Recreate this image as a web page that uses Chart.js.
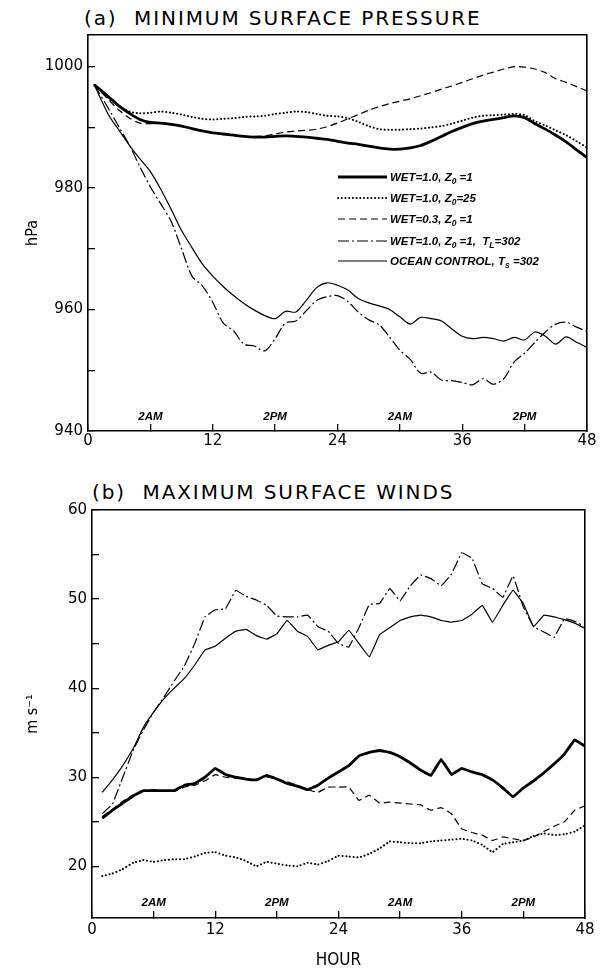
<!DOCTYPE html>
<html><head><meta charset="utf-8">
<script src="https://cdn.jsdelivr.net/npm/chart.js@4.4.1/dist/chart.umd.min.js"></script>
<style>
html,body{margin:0;padding:0;background:#fff;}
body{width:605px;height:971px;position:relative;overflow:hidden;}
.ptitle{position:absolute;font-family:'DejaVu Sans',sans-serif;font-size:20px;line-height:20px;letter-spacing:1.9px;color:#000;white-space:nowrap;}
#wrapA{position:absolute;left:0;top:0;width:605px;height:460px;}
#wrapB{position:absolute;left:0;top:470px;width:605px;height:501px;}
#legend{position:absolute;left:337px;top:0;font-family:'Liberation Sans',Arial,sans-serif;font-weight:bold;font-style:italic;font-size:11.5px;color:#000;}
.row{position:absolute;left:0;height:14px;white-space:nowrap;}
.row svg{position:absolute;left:0;top:3px;}
.row span{position:absolute;left:53px;top:0;line-height:14px;}
sub{font-size:8.5px;vertical-align:-3px;line-height:0;}
</style></head><body>
<div class="ptitle" id="titleA" style="left:84px;top:8px;">(a)&nbsp; MINIMUM SURFACE PRESSURE</div>
<div class="ptitle" id="titleB" style="left:92px;top:482px;">(b)&nbsp; MAXIMUM SURFACE WINDS</div>
<div id="wrapA"><canvas id="cA" width="605" height="460" style="width:605px;height:460px"></canvas></div>
<div id="wrapB"><canvas id="cB" width="605" height="501" style="width:605px;height:501px"></canvas></div>
<div id="legend"></div>
<script>
// ---------- categories (hours) ----------
const hoursA = [0.6, 2, 3, 4, 5, 6, 7, 8, 9, 10, 11, 12, 13, 14, 15, 16, 17, 18, 19, 20, 21, 22, 23, 24,
  25, 26, 27, 28, 29, 30, 31, 32, 33, 34, 35, 36, 37, 38, 39, 40, 41, 42, 43, 44, 45, 46, 47, 48];
const hoursB = [1, 2, 3, 4, 5, 6, 7, 8, 9, 10, 11, 12, 13, 14, 15, 16, 17, 18, 19, 20, 21, 22, 23, 24,
  25, 26, 27, 28, 29, 30, 31, 32, 33, 34, 35, 36, 37, 38, 39, 40, 41, 42, 43, 44, 45, 46, 47, 48];

// ---------- (a) minimum surface pressure, hPa ----------
const presWet10Z1 = [997, 995, 993.5, 992.3, 991.3, 990.8, 990.7, 990.5, 990.2, 989.8, 989.4, 989.1, 988.9, 988.7, 988.5, 988.4,
  988.4, 988.5, 988.6, 988.5, 988.4, 988.2, 988.0, 987.7, 987.4, 987.2, 986.9, 986.6, 986.4, 986.4, 986.6, 987.0,
  987.7, 988.5, 989.3, 990.0, 990.6, 991.0, 991.3, 991.6, 991.9, 991.6, 990.6, 989.7, 988.7, 987.6, 986.3, 985.0];
const presWet10Z25 = [997, 994.8, 993.5, 992.6, 992.3, 992.4, 992.6, 992.4, 992.1, 991.7, 991.4, 991.3, 991.4, 991.5, 991.7, 991.8,
  991.9, 992.2, 992.4, 992.6, 992.5, 992.2, 991.9, 991.8, 991.5, 990.9, 990.2, 989.7, 989.6, 989.6, 989.7, 989.8,
  990.0, 990.2, 990.6, 991.1, 991.6, 991.9, 992.0, 992.1, 992.2, 992.0, 991.0, 990.3, 989.5, 988.7, 987.7, 986.7];
const presWet03Z1 = [997, 994.5, 992.8, 991.5, 990.7, 990.6, 990.7, 990.5, 990.2, 989.8, 989.4, 989.1, 988.9, 988.7, 988.5, 988.5,
  988.6, 988.9, 989.2, 989.4, 989.5, 989.7, 990.1, 990.7, 991.4, 992.1, 992.8, 993.4, 993.9, 994.3, 994.7, 995.2,
  995.7, 996.3, 996.8, 997.4, 998.0, 998.6, 999.1, 999.6, 1000.0, 999.9, 999.6, 999.0, 998.0, 997.4, 996.7, 996.0];
const presWet10TL302 = [997, 993, 990, 987, 983.5, 980.2, 977.4, 974.5, 970.0, 965.5, 963.9, 961.2, 957.8, 956.5, 954.3, 954.0,
  953.2, 955.2, 957.8, 958.1, 959.8, 961.5, 962.1, 962.3, 961.3, 959.6, 958.3, 957.5, 955.5, 953.3, 951.8, 949.5,
  949.7, 948.4, 948.3, 948.0, 947.6, 948.6, 947.7, 948.6, 951.4, 952.8, 954.6, 956.3, 957.6, 957.9, 957.1, 956.4];
const presOceanTs302 = [997, 992, 989.5, 987, 984.8, 982.7, 979.8, 976.5, 973, 970.2, 967.5, 965.5, 963.8, 962.3, 961, 959.9,
  959.0, 958.5, 959.7, 959.6, 961.5, 963.6, 964.4, 964.0, 963.2, 961.8, 961.1, 960.6, 960.0, 958.8, 957.6, 958.7,
  958.5, 958.1, 956.8, 955.6, 955.2, 955.4, 955.2, 954.8, 955.4, 955.0, 956.3, 955.6, 954.3, 955.5, 954.6, 953.8];

// ---------- (b) maximum surface winds, m/s ----------
const windWet10Z1 = [25.4, 26.3, 27.1, 27.9, 28.5, 28.5, 28.5, 28.5, 29.1, 29.3, 30.0, 31.0, 30.3, 30.0, 29.8, 29.7,
  30.2, 29.8, 29.3, 29.0, 28.6, 29.1, 29.9, 30.6, 31.3, 32.4, 32.8, 33.0, 32.8, 32.3, 31.6, 30.8,
  30.2, 32.0, 30.3, 31.0, 30.6, 30.3, 29.7, 28.8, 27.8, 28.8, 29.6, 30.5, 31.5, 32.6, 34.2, 33.5];
const windWet10Z25 = [18.9, 19.2, 19.7, 20.4, 20.7, 20.5, 20.7, 20.8, 20.8, 21.1, 21.5, 21.6, 21.2, 21.0, 20.6, 20.0,
  20.5, 20.3, 20.1, 20.0, 20.4, 20.2, 20.6, 21.2, 21.1, 21.0, 21.4, 22.0, 22.8, 22.7, 22.6, 22.6,
  22.8, 22.9, 23.0, 23.1, 22.9, 22.4, 21.6, 22.5, 22.7, 22.9, 23.4, 23.7, 23.5, 23.6, 23.9, 24.6];
const windWet03Z1 = [25.6, 26.4, 27.3, 28.0, 28.5, 28.6, 28.5, 28.4, 28.9, 29.1, 29.6, 30.3, 30.0, 29.9, 29.8, 29.8,
  30.0, 29.8, 29.5, 29.1, 28.6, 28.3, 28.9, 28.9, 28.9, 27.4, 28.0, 27.1, 27.2, 27.1, 27.0, 26.9,
  26.3, 26.6, 25.9, 24.2, 23.8, 23.5, 22.9, 23.3, 23.1, 22.9, 23.3, 23.9, 24.5, 25.0, 26.3, 26.8];
const windWet10TL302 = [25.9, 27.0, 30.0, 33.0, 35.3, 37.3, 39.0, 40.8, 42.5, 45.0, 48.0, 48.8, 48.9, 51.0, 50.3, 49.9,
  49.3, 48.1, 48.0, 48.0, 48.2, 46.9, 46.4, 45.0, 44.6, 46.8, 49.4, 49.5, 51.2, 49.8, 51.5, 52.7,
  52.3, 51.5, 52.8, 55.2, 54.6, 51.7, 51.2, 50.2, 52.6, 49.1, 46.9, 46.3, 45.7, 47.8, 47.5, 46.9];
const windOceanTs302 = [28.3, 29.7, 31.3, 33.2, 35.6, 37.3, 38.8, 40.0, 41.1, 42.6, 44.3, 44.7, 45.6, 46.4, 46.6, 45.9,
  45.5, 46.1, 47.6, 46.4, 45.8, 44.3, 44.8, 45.2, 46.5, 45.0, 43.5, 46.0, 46.8, 47.6, 48.0, 48.2,
  48.0, 47.6, 47.4, 47.6, 48.3, 49.3, 47.4, 49.3, 51.0, 49.5, 46.9, 48.2, 48.0, 47.7, 47.3, 46.7];

// ---------- ticks & labels ----------
const xTickHours = [0, 6, 12, 18, 24, 30, 36, 42, 48];
const xTickLabels = [0, 12, 24, 36, 48];
const dayTickHours = [6, 18, 30, 42];
const dayTickLabels = ['2AM', '2PM', '2AM', '2PM'];
const yTicksA = [940, 950, 960, 970, 980, 990, 1000];
const yLabelsA = [940, 960, 980, 1000];
const yTicksB = [20, 25, 30, 35, 40, 45, 50, 55, 60];
const yLabelsB = [20, 30, 40, 50, 60];
const seriesNames = ['WET=1.0, Z0=1', 'WET=1.0, Z0=25', 'WET=0.3, Z0=1', 'WET=1.0, Z0=1, TL=302', 'OCEAN CONTROL, Ts=302'];
const legendLabels = ['WET=1.0, Z<sub>0</sub> =1', 'WET=1.0, Z<sub>0</sub>=25', 'WET=0.3, Z<sub>0</sub> =1',
  'WET=1.0, Z<sub>0</sub> =1, &nbsp;T<sub>L</sub>=302', 'OCEAN CONTROL, T<sub>s</sub> =302'];

// ---------- styles ----------
const styles = [
  {borderWidth: 2.8, borderDash: [], cap: 'butt', svgDash: ''},
  {borderWidth: 2.0, borderDash: [0.1, 3.6], cap: 'round', svgDash: '0.1 3.6'},
  {borderWidth: 1.2, borderDash: [7, 4], cap: 'butt', svgDash: '7 4'},
  {borderWidth: 1.2, borderDash: [11, 3, 2, 3], cap: 'butt', svgDash: '11 3 2 3'},
  {borderWidth: 1.2, borderDash: [], cap: 'butt', svgDash: ''}
];

function pts(hours, vals) { return hours.map((h, i) => ({x: h, y: vals[i]})); }
function mkSets(hours, arrs, tension) {
  return arrs.map((a, i) => ({
    label: seriesNames[i], data: pts(hours, a), borderColor: '#000', backgroundColor: '#000',
    borderWidth: styles[i].borderWidth, borderDash: styles[i].borderDash, borderCapStyle: styles[i].cap,
    borderJoinStyle: 'round', pointRadius: 0, tension: tension, fill: false, xAxisID: 'x', yAxisID: 'y'
  }));
}

const dayPlugin = {
  id: 'dayLabels',
  afterDraw(chart, args, opts) {
    const xs = chart.scales.x, ctx = chart.ctx;
    ctx.save();
    ctx.font = 'italic bold 11.5px "Liberation Sans", Arial, sans-serif';
    ctx.textAlign = 'center'; ctx.textBaseline = 'middle'; ctx.fillStyle = '#000';
    dayTickHours.forEach((h, i) => ctx.fillText(dayTickLabels[i], xs.getPixelForValue(h), chart.chartArea.bottom - opts.offset));
    ctx.restore();
  }
};

const tickFont = {family: "'DejaVu Sans', sans-serif", size: 15};
const narrowFont = "'Liberation Sans Narrow', 'DejaVu Sans Condensed', 'Liberation Sans', sans-serif";

function makeScales(cfg) {
  return {
    x: {
      type: 'linear', position: 'bottom', min: 0, max: 48,
      afterBuildTicks: s => { s.ticks = xTickHours.map(v => ({value: v})); },
      ticks: {callback: v => xTickLabels.includes(v) ? String(v) : '', font: tickFont, color: '#000',
        padding: cfg.xPad, maxRotation: 0, autoSkip: false},
      grid: {drawOnChartArea: false, drawTicks: true, tickLength: -7, color: '#000', lineWidth: 1.3},
      border: {display: true, color: '#000', width: 1.6},
      title: cfg.xTitle ? {display: true, text: cfg.xTitle, color: '#000', font: {family: narrowFont, size: 17}, padding: {top: 0, bottom: 0}} : {display: false},
      afterFit: s => { s.height = cfg.xHeight; }
    },
    y: {
      type: 'linear', position: 'left', min: cfg.yMin, max: cfg.yMax,
      afterBuildTicks: s => { s.ticks = cfg.yTicks.map(v => ({value: v})); },
      ticks: {callback: v => cfg.yLabels.includes(v) ? String(v) : '', font: tickFont, color: '#000', padding: 12, autoSkip: false},
      grid: {drawOnChartArea: false, drawTicks: true, tickLength: -7, color: '#000', lineWidth: 1.3},
      border: {display: true, color: '#000', width: 1.6},
      title: {display: true, text: cfg.yTitle, color: '#000', font: {family: narrowFont, size: 16}, padding: {top: 23, bottom: 0}},
      afterFit: s => { s.width = cfg.yWidth; }
    },
    xTop: {
      type: 'linear', position: 'top', min: 0, max: 48,
      ticks: {display: false}, grid: {display: true, drawOnChartArea: false, drawTicks: false},
      border: {display: true, color: '#000', width: 1.4},
      afterFit: s => { s.height = 0; }
    },
    yRight: {
      type: 'linear', position: 'right', min: cfg.yMin, max: cfg.yMax,
      ticks: {display: false}, grid: {display: true, drawOnChartArea: false, drawTicks: false},
      border: {display: true, color: '#000', width: 1.6},
      afterFit: s => { s.width = 0; }
    }
  };
}

const commonOpts = (pad, scales, dayOffset) => ({
  responsive: false, animation: false, events: [],
  layout: {padding: pad},
  plugins: {legend: {display: false}, tooltip: {enabled: false}, title: {display: false}, dayLabels: {offset: dayOffset}},
  scales: scales
});

new Chart(document.getElementById('cA'), {
  type: 'line',
  data: {datasets: mkSets(hoursA, [presWet10Z1, presWet10Z25, presWet03Z1, presWet10TL302, presOceanTs302], 0.3)},
  options: commonOpts({top: 35, right: 15, bottom: 0, left: 0},
    makeScales({yMin: 940, yMax: 1005.2, yTicks: yTicksA, yLabels: yLabelsA, yTitle: 'hPa', yWidth: 88, xHeight: 29, xPad: 8.5}), 14),
  plugins: [dayPlugin]
});

new Chart(document.getElementById('cB'), {
  type: 'line',
  data: {datasets: mkSets(hoursB, [windWet10Z1, windWet10Z25, windWet03Z1, windWet10TL302, windOceanTs302], 0.05)},
  options: commonOpts({top: 40, right: 11, bottom: 0, left: 0},
    makeScales({yMin: 14.2, yMax: 60, yTicks: yTicksB, yLabels: yLabelsB, yTitle: 'm s\u207B\u00B9', yWidth: 92, xHeight: 53, xPad: 10.5, xTitle: 'HOUR'}), 15.5),
  plugins: [dayPlugin]
});

// ---------- legend (panel a) ----------
const legendRowsY = [177, 198, 219, 241, 261];
const leg = document.getElementById('legend');
legendLabels.forEach((lab, i) => {
  const st = styles[i];
  const row = document.createElement('div');
  row.className = 'row';
  row.style.top = (legendRowsY[i] - 7) + 'px';
  row.innerHTML = '<svg width="50" height="8"><line x1="1" y1="4" x2="50" y2="4" stroke="#000" stroke-width="' + st.borderWidth +
    '"' + (st.svgDash ? ' stroke-dasharray="' + st.svgDash + '"' : '') + ' stroke-linecap="' + st.cap + '"/></svg><span>' + lab + '</span>';
  leg.appendChild(row);
});
</script>
</body></html>
